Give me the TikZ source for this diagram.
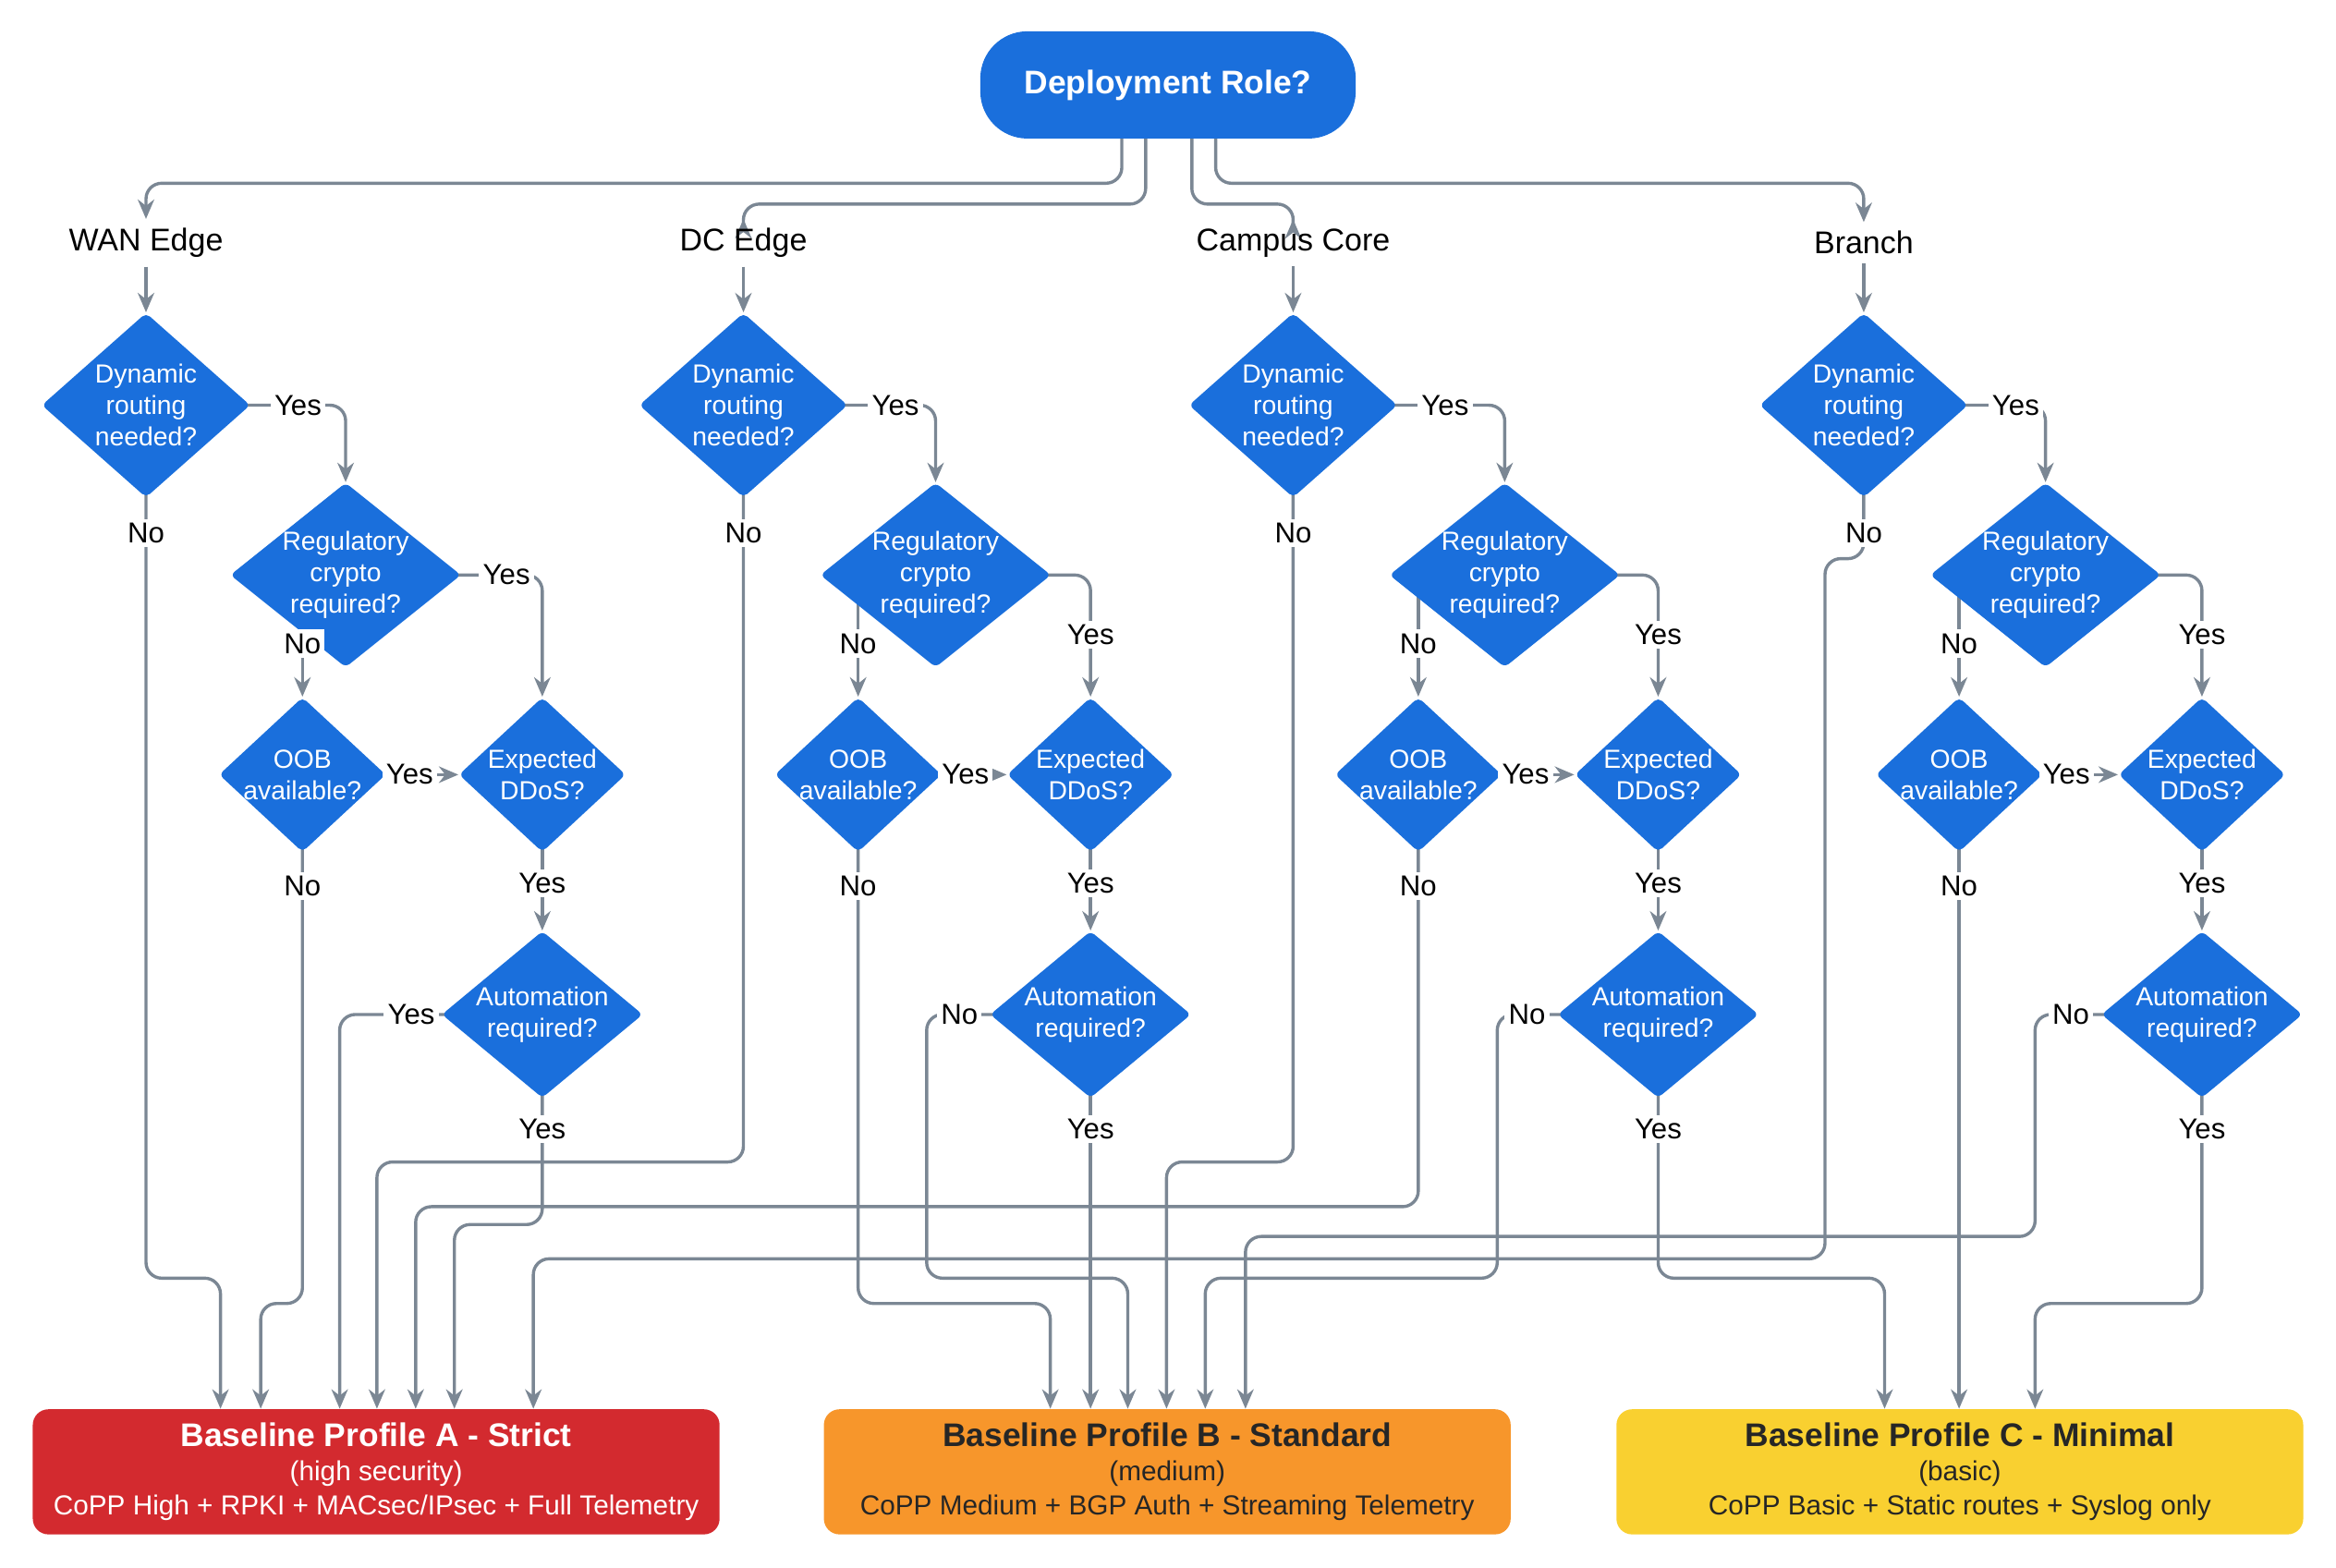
\documentclass[tikz,border=0pt]{standalone}
\usepackage{fontspec}
\setmainfont{Liberation Sans}
\usetikzlibrary{shapes,arrows.meta,positioning,calc}
\definecolor{dblue}{HTML}{1A6FDC}
\definecolor{lgrey}{HTML}{7B8794}
\definecolor{pred}{HTML}{D32A2F}
\definecolor{porange}{HTML}{F7962B}
\definecolor{pyellow}{HTML}{F9D030}
\pgfdeclarelayer{background}
\pgfsetlayers{background,main}

\begin{document}
\begin{tikzpicture}[x=0.2mm,y=-0.2mm,% picture drawn in pixel units, y downwards
				every node/.style={align=center},
				dec/.style 2 args={diamond,fill=dblue,inner sep=0pt,minimum width=#1,minimum height=#2,rounded corners=2pt},
				dtext/.style={text=white,font=\fontsize{10}{12}\selectfont},
				lbl/.style={fill=white,inner sep=1.5pt,font=\fontsize{11}{13}\selectfont},
				head/.style={font=\fontsize{12}{14}\selectfont},
				profile/.style={rectangle,rounded corners=6pt,minimum width=92.2mm,minimum height=16.8mm,font=\fontsize{10.5}{13}\selectfont},
				arr/.style={draw=lgrey,line width=1.2pt,rounded corners=6pt,-{Stealth[length=2.6mm,width=2.2mm]}}
			]
			\useasboundingbox (0,0) rectangle (1568,1052);
			\node[fill=dblue,text=white,rounded corners=18pt,minimum width=50.4mm,minimum height=14.4mm,font=\bfseries\fontsize{12.5}{15}\selectfont](root) at (784,57){Deployment Role?};
			% column headings
			\node[head](hw) at (98,163){WAN Edge};
			\node[head](hd) at (499,163){DC Edge};
			\node[head](hc) at (868,163){Campus Core};
			\node[head](hb) at (1251,163){Branch};
			% baseline profiles
			\node[profile,fill=pred,text=white](pA) at (252.5,988){{\bfseries\fontsize{12.5}{15}\selectfont Baseline Profile A - Strict}\\(high security)\\CoPP High + RPKI + MACsec/IPsec + Full Telemetry};
			\node[profile,fill=porange,text=black!85](pB) at (783.5,988){{\bfseries\fontsize{12.5}{15}\selectfont Baseline Profile B - Standard}\\(medium)\\CoPP Medium + BGP Auth + Streaming Telemetry};
			\node[profile,fill=pyellow,text=black!85](pC) at (1315.5,988){{\bfseries\fontsize{12.5}{15}\selectfont Baseline Profile C - Minimal}\\(basic)\\CoPP Basic + Static routes + Syslog only};
			% decision columns
			\foreach \n/\dx/\rx/\ox/\ax/\ryx/\ryy/\al in {w/98/232/203/364/340/386/Yes, d/499/628/576/732/732/426/No, c/868/1010/952/1113/1113/426/No, b/1251/1373/1315/1478/1478/426/No}{
				\node[dec={28mm}{24.8mm},label={[dtext]center:Dynamic\\routing\\needed?}](\n1) at (\dx,272){};
				\node[dec={31mm}{24.8mm},label={[dtext]center:Regulatory\\crypto\\required?}](\n2) at (\rx,386){};
				\node[dec={22.4mm}{20.8mm},label={[dtext]center:OOB\\available?}](\n3) at (\ox,520){};
				\node[dec={22.4mm}{20.8mm},label={[dtext]center:Expected\\DDoS?}](\n4) at (\ax,520){};
				\node[dec={27mm}{22.4mm},label={[dtext]center:Automation\\required?}](\n5) at (\ax,681){};
				\begin{pgfonlayer}{background}
					\draw[arr] (\n1.center) -| (\n2.north);
					\draw[arr] (\n2.center) -| (\n4.north);
					\draw[arr] (\n2.center -| \n3.center) -- (\n3.north);
					\draw[arr] (\n3.center) -- (\n4.west);
					\draw[arr] (\n4.center) -- (\n5.north);
				\end{pgfonlayer}
				\node[lbl] at (\dx+102,272){Yes};
				\node[lbl] at (\dx,358){No};
				\node[lbl] at (\ryx,\ryy){Yes};
				\node[lbl] at (\ox,432){No};
				\node[lbl] at (\ox+72,520){Yes};
				\node[lbl] at (\ox,595){No};
				\node[lbl] at (\ax,593){Yes};
				\node[lbl] at (\ax-88,681){\al};
				\node[lbl] at (\ax,758){Yes};
			}
			\begin{pgfonlayer}{background}
				% from the role to the headings
				\draw[arr] ($(root)+(-31,0)$) -- ($(root)+(-31,66)$) -| (hw.north);
				\draw[arr] ($(root)+(-15,0)$) -- ($(root)+(-15,80)$) -| (hd.north);
				\draw[arr] ($(root)+(16,0)$) -- ($(root)+(16,80)$) -| (hc.north);
				\draw[arr] ($(root)+(32,0)$) -- ($(root)+(32,66)$) -| (hb.north);
				\draw[arr] (hw.south) -- (w1.north);
				\draw[arr] (hd.south) -- (d1.north);
				\draw[arr] (hc.south) -- (c1.north);
				\draw[arr] (hb.south) -- (b1.north);
				% WAN Edge
				\draw[arr] (w1.center) -- (98,858) -| (148,0 |- pA.north);
				\draw[arr] (w3.center) -- (203,875) -| (175,0 |- pA.north);
				\draw[arr] (w5.center) -| (228,0 |- pA.north);
				\draw[arr] (w5.center) -- (364,822) -| (305,0 |- pA.north);
				% DC Edge
				\draw[arr] (d1.center) -- (499,780) -| (253,0 |- pA.north);
				\draw[arr] (d3.center) -- (576,875) -| (705,0 |- pB.north);
				\draw[arr] (d5.center) -| (622,858) -| (757,0 |- pB.north);
				\draw[arr] (d5.center) -- (732,0 |- pB.north);
				% Campus Core
				\draw[arr] (c1.center) -- (868,780) -| (783,0 |- pB.north);
				\draw[arr] (c3.center) -- (952,810) -| (279,0 |- pA.north);
				\draw[arr] (c5.center) -| (1005,858) -| (809,0 |- pB.north);
				\draw[arr] (c5.center) -- (1113,858) -| (1265,0 |- pC.north);
				% Branch
				\draw[arr] (b1.center) -- (1251,375) -| (1225,845) -| (358,0 |- pA.north);
				\draw[arr] (b3.center) -- (1315,0 |- pC.north);
				\draw[arr] (b5.center) -| (1366,830) -| (836,0 |- pB.north);
				\draw[arr] (b5.center) -- (1478,875) -| (1366,0 |- pC.north);
			\end{pgfonlayer}
		\end{tikzpicture}
\end{document}
